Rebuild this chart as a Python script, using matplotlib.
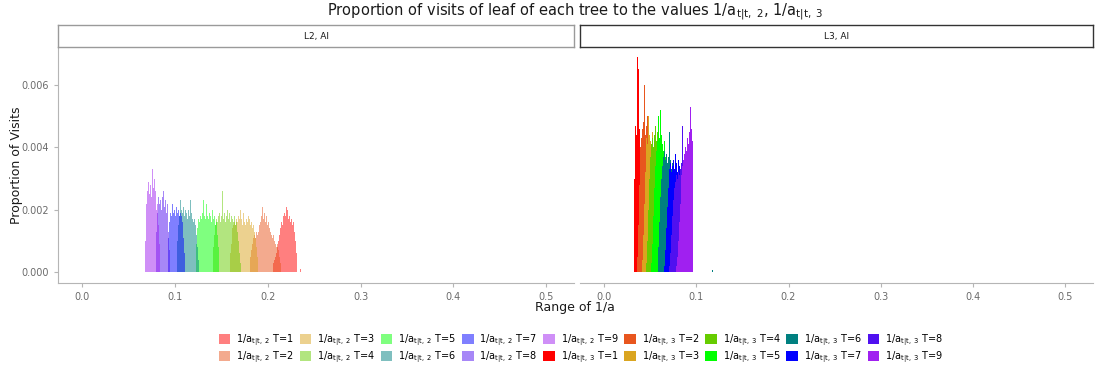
import numpy as np
import matplotlib
matplotlib.use('Agg')
import matplotlib.pyplot as plt
from matplotlib.patches import Patch

# ------------------------ DATA
bin_width = 0.001
t_labels = ['T=1', 'T=2', 'T=3', 'T=4', 'T=5', 'T=6', 'T=7', 'T=8', 'T=9']
colors = ['#FF0000', '#E8561E', '#DAA520', '#66CC00', '#00FF00',
          '#008080', '#0000FF', '#5010F0', '#A020F0']

# 1/a_{t|t,2}  (panel L2, AI): first bin edge and bin heights for each T
a2_start = [0.206, 0.181, 0.159, 0.141, 0.123, 0.102, 0.093, 0.080, 0.068]
a2_h1 = [0.0003, 0.0004, 0.0005, 0.0006, 0.0008, 0.0010, 0.0012, 0.0014, 0.0016,
         0.0015, 0.0018, 0.0017, 0.0019, 0.0018, 0.0021, 0.0020, 0.0017, 0.0018, 0.0016,
         0.0017, 0.0015, 0.0016, 0.0013, 0.0010, 0.0006, 0.0002, 0.0000, 0.0000, 0.0000,
         0.0001]
a2_h2 = [0.0005, 0.0007, 0.0009, 0.0011, 0.0012, 0.0011, 0.0013, 0.0012, 0.0014,
         0.0013, 0.0015, 0.0016, 0.0018, 0.0021, 0.0017, 0.0019, 0.0016, 0.0018, 0.0015,
         0.0016, 0.0014, 0.0013, 0.0015, 0.0012, 0.0011, 0.0012, 0.0010, 0.0009, 0.0008,
         0.0009, 0.0007, 0.0005, 0.0003]
a2_h3 = [0.0006, 0.0009, 0.0012, 0.0014, 0.0015, 0.0016, 0.0015, 0.0017, 0.0016,
         0.0018, 0.0017, 0.0020, 0.0017, 0.0015, 0.0019, 0.0016, 0.0018, 0.0015, 0.0017,
         0.0016, 0.0018, 0.0017, 0.0015, 0.0016, 0.0014, 0.0015, 0.0013, 0.0011, 0.0008,
         0.0005, 0.0003]
a2_h4 = [0.0008, 0.0012, 0.0015, 0.0017, 0.0016, 0.0018, 0.0017, 0.0019, 0.0016,
         0.0018, 0.0026, 0.0017, 0.0019, 0.0016, 0.0018, 0.0020, 0.0017, 0.0019, 0.0016,
         0.0018, 0.0015, 0.0017, 0.0016, 0.0018, 0.0015, 0.0016, 0.0013, 0.0010, 0.0006,
         0.0003]
a2_h5 = [0.0009, 0.0014, 0.0017, 0.0016, 0.0018, 0.0017, 0.0019, 0.0023, 0.0018,
         0.0017, 0.0020, 0.0022, 0.0018, 0.0017, 0.0019, 0.0018, 0.0016, 0.0020, 0.0017,
         0.0018, 0.0015, 0.0016, 0.0012, 0.0008, 0.0004]
a2_h6 = [0.0010, 0.0015, 0.0018, 0.0023, 0.0018, 0.0020, 0.0019, 0.0021, 0.0018,
         0.0020, 0.0019, 0.0017, 0.0020, 0.0018, 0.0023, 0.0019, 0.0017, 0.0018, 0.0016,
         0.0017, 0.0015, 0.0012, 0.0008, 0.0004]
a2_h7 = [0.0011, 0.0016, 0.0019, 0.0018, 0.0022, 0.0019, 0.0020, 0.0018, 0.0021,
         0.0019, 0.0020, 0.0018, 0.0019, 0.0017, 0.0018, 0.0016, 0.0011, 0.0006]
a2_h8 = [0.0013, 0.0019, 0.0024, 0.0022, 0.0023, 0.0020, 0.0024, 0.0026, 0.0021,
         0.0023, 0.0019, 0.0022, 0.0018, 0.0013, 0.0007]
a2_h9 = [0.0010, 0.0022, 0.0026, 0.0029, 0.0025, 0.0028, 0.0024, 0.0033, 0.0027, 0.0030,
         0.0023, 0.0026, 0.0020, 0.0022, 0.0015, 0.0009]
a2_heights = [a2_h1, a2_h2, a2_h3, a2_h4, a2_h5, a2_h6, a2_h7, a2_h8, a2_h9]

# 1/a_{t|t,3}  (panel L3, AI)
a3_start = [0.032, 0.036, 0.041, 0.046, 0.051, 0.058, 0.065, 0.071, 0.078]
a3_h1 = [0.0008, 0.0030, 0.0047, 0.0044, 0.0069, 0.0065, 0.0046, 0.0040, 0.0042, 0.0044,
         0.0039, 0.0036, 0.0030, 0.0024, 0.0018, 0.0012, 0.0007, 0.0003]
a3_h2 = [0.0005, 0.0015, 0.0028, 0.0040, 0.0043, 0.0046, 0.0048, 0.0060, 0.0044, 0.0042,
         0.0047, 0.0050, 0.0041, 0.0035, 0.0028, 0.0020, 0.0012, 0.0006, 0.0002]
a3_h3 = [0.0004, 0.0012, 0.0022, 0.0032, 0.0040, 0.0043, 0.0041, 0.0050, 0.0044, 0.0042,
         0.0039, 0.0045, 0.0040, 0.0033, 0.0026, 0.0018, 0.0011, 0.0005, 0.0002]
a3_h4 = [0.0003, 0.0010, 0.0020, 0.0030, 0.0037, 0.0041, 0.0043, 0.0040, 0.0044, 0.0047,
         0.0042, 0.0045, 0.0041, 0.0036, 0.0029, 0.0021, 0.0013, 0.0006, 0.0002]
a3_h5 = [0.0003, 0.0009, 0.0018, 0.0027, 0.0034, 0.0039, 0.0042, 0.0045, 0.0050, 0.0043,
         0.0052, 0.0044, 0.0041, 0.0039, 0.0042, 0.0037, 0.0030, 0.0022, 0.0014, 0.0007,
         0.0002]
a3_h6 = [0.0003, 0.0008, 0.0016, 0.0024, 0.0030, 0.0034, 0.0037, 0.0039, 0.0036, 0.0038,
         0.0035, 0.0037, 0.0034, 0.0045, 0.0036, 0.0033, 0.0035, 0.0029, 0.0022, 0.0014,
         0.0007, 0.0002]
a3_h7 = [0.0002, 0.0007, 0.0014, 0.0021, 0.0027, 0.0031, 0.0033, 0.0035, 0.0032, 0.0034,
         0.0036, 0.0033, 0.0038, 0.0035, 0.0032, 0.0036, 0.0034, 0.0031, 0.0030, 0.0024,
         0.0016, 0.0008, 0.0003]
a3_h8 = [0.0002, 0.0006, 0.0012, 0.0018, 0.0023, 0.0027, 0.0029, 0.0031, 0.0030, 0.0032,
         0.0031, 0.0033, 0.0030, 0.0035, 0.0047, 0.0034, 0.0031, 0.0028, 0.0020, 0.0012,
         0.0005]
a3_h9 = [0.0002, 0.0005, 0.0010, 0.0016, 0.0022, 0.0027, 0.0031, 0.0034, 0.0036, 0.0038,
         0.0040, 0.0039, 0.0043, 0.0041, 0.0045, 0.0053, 0.0046, 0.0042, 0.0036]
a3_heights = [a3_h1, a3_h2, a3_h3, a3_h4, a3_h5, a3_h6, a3_h7, a3_h8, a3_h9]

# lone bins far from the bulk (series index, bin edge, height)
a3_stray_series = [5, 7]
a3_stray_edge = [0.117, 0.135]
a3_stray_h = [0.00006, 0.00006]

x_ticks = [0.0, 0.1, 0.2, 0.3, 0.4, 0.5]
y_ticks = [0.000, 0.002, 0.004, 0.006]

# ------------------------ FIGURE
W, H = 1097, 374
fig = plt.figure(figsize=(W / 100, H / 100), dpi=100)
plt.rcParams['font.family'] = ['DejaVu Sans']
plt.rcParams['mathtext.default'] = 'regular'


def box(x0, y0, x1, y1):
    return [x0 / W, 1 - y1 / H, (x1 - x0) / W, (y1 - y0) / H]


axL = fig.add_axes(box(58, 47, 574, 283))
axR = fig.add_axes(box(580, 47, 1093, 283))


def draw_hist(ax, start, h, color, alpha):
    h = np.asarray(h)
    edges = start + bin_width * np.arange(len(h) + 1)
    ax.stairs(h, edges, fill=True, color=color, alpha=alpha, linewidth=0)


for i in range(9):
    draw_hist(axL, a2_start[i], a2_heights[i], colors[i], 0.5)
for i in range(9):
    draw_hist(axR, a3_start[i], a3_heights[i], colors[i], 1.0)
for s, e, h in zip(a3_stray_series, a3_stray_edge, a3_stray_h):
    draw_hist(axR, e, [h], colors[s], 1.0)

tick_col = '#6b6b6b'
for ax in (axL, axR):
    ax.set_xlim(-0.026, 0.53)
    ax.set_ylim(-0.00035, 0.00722)
    ax.set_xticks(x_ticks)
    ax.set_xticklabels(['%.1f' % v for v in x_ticks])
    for s in ('top', 'right'):
        ax.spines[s].set_visible(False)
    ax.spines['bottom'].set_color('#b5b5b5')
    ax.spines['left'].set_color('#b5b5b5')
    ax.tick_params(colors='#b5b5b5', labelcolor=tick_col, labelsize=7, length=3, width=0.8)
    ax.patch.set_alpha(0)

axL.set_yticks(y_ticks)
axL.set_yticklabels(['%.3f' % v for v in y_ticks])
axR.set_yticks([])
axR.spines['left'].set_visible(False)

# facet strips
for (x0, x1, txt, ec) in [(58, 574, 'L2, AI', '#9a9a9a'), (580, 1093, 'L3, AI', '#333333')]:
    sax = fig.add_axes(box(x0, 25, x1, 47))
    sax.set_xticks([])
    sax.set_yticks([])
    for s in sax.spines.values():
        s.set_color(ec)
        s.set_linewidth(1.0)
    sax.text(0.5, 0.5, txt, ha='center', va='center', fontsize=6.5, color='#1a1a1a',
             transform=sax.transAxes)

fig.text(575 / W, 1 - 12 / H,
         r'Proportion of visits of leaf of each tree to the values '
         r'$1/a_{t|t,\ 2}$, $1/a_{t|t,\ 3}$',
         ha='center', va='center', fontsize=10.5, color='#1a1a1a')
fig.text(575 / W, 1 - 308 / H, 'Range of 1/a', ha='center', va='center', fontsize=9, color='#1a1a1a')
fig.text(17 / W, 1 - 165 / H, 'Proportion of Visits', ha='center', va='center', rotation=90,
         fontsize=9, color='#1a1a1a')

# legend: a2 entries are the same colours at half opacity
handles, labels = [], []
for i in range(9):
    handles.append(Patch(facecolor=colors[i], alpha=0.5, edgecolor='none'))
    labels.append(r'$1/a_{t|t,\ 2}$ ' + t_labels[i])
for i in range(9):
    handles.append(Patch(facecolor=colors[i], alpha=1.0, edgecolor='none'))
    labels.append(r'$1/a_{t|t,\ 3}$ ' + t_labels[i])
fig.legend(handles, labels, ncol=9, loc='center', bbox_to_anchor=(581 / W, 1 - 349 / H),
           frameon=False, fontsize=7, handlelength=1.2, handleheight=1.2,
           handletextpad=0.6, columnspacing=0.55, labelspacing=0.15)

fig.savefig('out.png', dpi=100)
